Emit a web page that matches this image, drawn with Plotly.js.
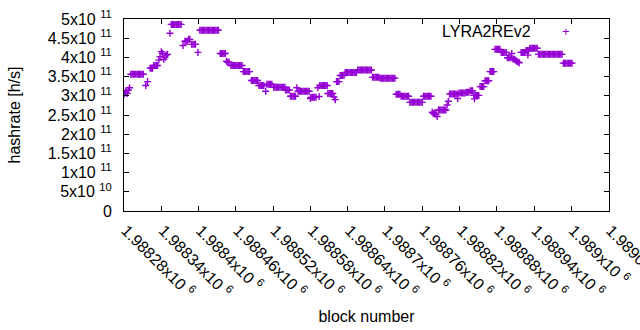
<!DOCTYPE html>
<html>
<head>
<meta charset="utf-8">
<script src="https://cdn.plot.ly/plotly-3.0.1.min.js"></script>
<style>html,body{margin:0;padding:0;background:#fff;}#chart{width:640px;height:330px;}</style>
</head>
<body>
<div id="chart"></div>
<script>
// block numbers (x) and hashrate in h/s (y)
const blocks = [
1988280,1988282,1988283,1988285,1988287,1988289,
1988291,1988293,1988295,1988297,1988299,1988301,1988303,1988305,1988307,1988309,1988311,
1988315,1988318,
1988322,1988324,1988326,1988328,1988330,1988332,1988334,
1988336,1988338,1988340,1988342,1988344,1988346,1988348,1988350,
1988354,
1988356,1988358,1988360,1988362,1988364,1988366,1988368,1988370,1988372,
1988375,
1988378,1988380,1988382,1988384,1988386,
1988389,1988391,1988393,1988395,
1988399,
1988402,1988404,1988406,1988408,1988410,1988412,1988414,1988416,1988418,1988420,1988422,1988424,1988426,1988428,1988430,1988432,
1988435,1988437,1988439,1988441,1988443,
1988445,1988447,1988449,
1988452,1988454,1988456,1988458,1988460,1988462,1988464,1988466,1988468,1988470,
1988472,1988474,1988476,1988478,1988480,1988482,
1988485,1988487,1988489,1988491,1988493,1988495,
1988497,1988499,1988501,1988503,1988505,
1988508,
1988510,1988512,1988514,1988516,1988518,
1988521,1988523,1988525,1988527,1988529,1988531,1988533,1988535,1988537,1988539,
1988540,1988542,1988544,1988546,
1988548,1988550,1988552,1988554,1988556,
1988558,
1988560,1988562,1988564,1988566,1988568,1988570,1988572,1988574,1988576,1988578,
1988580,1988581,1988583,1988585,1988587,1988589,
1988592,1988594,
1988595,1988597,1988599,1988601,1988603,1988605,1988607,
1988608,1988610,1988612,1988614,1988616,
1988618,1988620,
1988622,1988624,1988626,
1988628,1988630,1988632,1988634,
1988636,1988638,1988640,1988642,1988644,1988646,1988648,1988650,1988652,1988654,
1988656,1988658,1988660,1988662,1988664,1988666,1988668,1988670,1988672,1988674,1988676,1988678,
1988680,1988682,1988684,1988686,1988688,1988690,
1988692,1988694,1988696,1988698,1988700,1988702,1988704,1988706,1988708,1988710,1988712,1988714,1988716,
1988718,1988720,1988722,1988724,
1988726,1988728,1988730,1988732,1988734,1988736,1988738,
1988740,1988742,1988744,1988746,1988748,1988750,1988752,1988754,1988756,1988758,1988760,
1988762,1988764,1988766,1988768,1988770,1988772,1988774,
1988776,1988778,1988780,1988782,1988784,
1988786,1988788,1988790,1988792,1988794,1988796,1988798,
1988800,1988802,
1988804,1988806,1988808,1988810,1988812,1988814,1988816,
1988817,
1988819,1988821,1988823,1988825,1988827,1988829,
1988831,1988833,1988835,1988837,1988839,1988841,
1988843,1988844,1988845,1988847,1988849,1988851,
1988853,1988855,1988857,1988859,
1988861,1988863,1988865,1988867,
1988869,1988871,1988873,1988875,
1988877,1988879,1988881,1988883,1988885,
1988887,1988889,1988891,1988893,1988895,
1988897,1988899,1988901,1988903,1988904,
1988906,1988908,1988910,1988912,1988914,1988916,
1988919,1988921,1988923,1988925,1988927,1988929,1988930,1988931,
1988933,1988935,1988937,1988939,1988941,1988943,1988945,
1988947,1988949,1988951,1988953,1988955,1988957,1988959,1988961,1988963,1988965,1988967,1988969,1988971,1988973,1988975,1988977,1988979,1988981,1988983,1988985,
1988987,1988989,1988991,1988993,1988995,1988997,1988999,1989001
];
const hashrate = [
3.04e11,3.08e11,3.13e11,3.06e11,3.15e11,3.21e11,
3.56e11,3.56e11,3.56e11,3.56e11,3.56e11,3.56e11,3.56e11,3.56e11,3.56e11,3.56e11,3.56e11,
3.27e11,3.37e11,
3.72e11,3.72e11,3.72e11,3.79e11,3.79e11,3.79e11,3.79e11,
3.93e11,4.02e11,4.15e11,4.11e11,3.95e11,4.00e11,4.06e11,4.08e11,
4.63e11,
4.86e11,4.86e11,4.86e11,4.86e11,4.86e11,4.86e11,4.86e11,4.86e11,4.86e11,
4.31e11,
4.42e11,4.42e11,4.42e11,4.47e11,4.47e11,
4.34e11,4.34e11,4.34e11,4.34e11,
4.13e11,
4.71e11,4.71e11,4.71e11,4.71e11,4.71e11,4.71e11,4.71e11,4.71e11,4.71e11,4.71e11,4.71e11,4.71e11,4.71e11,4.71e11,4.71e11,4.71e11,
4.10e11,4.10e11,4.10e11,4.10e11,4.10e11,
3.90e11,3.87e11,3.88e11,
3.79e11,3.79e11,3.79e11,3.79e11,3.79e11,3.79e11,3.79e11,3.79e11,3.79e11,3.79e11,
3.63e11,3.63e11,3.63e11,3.63e11,3.63e11,3.63e11,
3.40e11,3.40e11,3.40e11,3.40e11,3.40e11,3.40e11,
3.27e11,3.27e11,3.27e11,3.27e11,3.27e11,
3.12e11,
3.30e11,3.30e11,3.30e11,3.30e11,3.30e11,
3.22e11,3.22e11,3.22e11,3.22e11,3.22e11,3.22e11,3.22e11,3.22e11,3.22e11,3.22e11,
3.15e11,3.15e11,3.15e11,3.15e11,
2.99e11,2.99e11,2.99e11,2.99e11,2.99e11,
3.21e11,
3.12e11,3.12e11,3.12e11,3.12e11,3.12e11,3.12e11,3.12e11,3.12e11,3.12e11,3.12e11,
2.93e11,2.96e11,2.96e11,2.96e11,2.96e11,2.96e11,
3.21e11,2.98e11,
3.27e11,3.27e11,3.27e11,3.27e11,3.27e11,3.27e11,3.27e11,
3.06e11,3.06e11,3.06e11,3.06e11,3.06e11,
2.97e11,2.90e11,
3.37e11,3.37e11,3.37e11,
3.53e11,3.53e11,3.53e11,3.53e11,
3.61e11,3.61e11,3.61e11,3.61e11,3.61e11,3.61e11,3.61e11,3.61e11,3.61e11,3.61e11,
3.67e11,3.67e11,3.67e11,3.67e11,3.67e11,3.67e11,3.67e11,3.67e11,3.67e11,3.67e11,3.67e11,3.67e11,
3.48e11,3.48e11,3.48e11,3.48e11,3.48e11,3.48e11,
3.46e11,3.46e11,3.46e11,3.46e11,3.46e11,3.46e11,3.46e11,3.46e11,3.46e11,3.46e11,3.46e11,3.46e11,3.46e11,
3.04e11,3.04e11,3.04e11,3.04e11,
2.99e11,2.99e11,2.99e11,2.99e11,2.99e11,2.99e11,2.99e11,
2.83e11,2.83e11,2.83e11,2.83e11,2.83e11,2.83e11,2.83e11,2.83e11,2.83e11,2.83e11,2.83e11,
2.99e11,2.99e11,2.99e11,2.99e11,2.99e11,2.99e11,2.99e11,
2.57e11,2.54e11,2.55e11,2.51e11,2.46e11,
2.63e11,2.63e11,2.63e11,2.63e11,2.63e11,2.63e11,2.63e11,
2.76e11,2.86e11,
3.05e11,3.05e11,3.05e11,3.05e11,3.05e11,3.05e11,3.05e11,
2.93e11,
3.07e11,3.07e11,3.07e11,3.07e11,3.07e11,3.07e11,
3.09e11,3.09e11,3.09e11,3.13e11,3.13e11,3.13e11,
3.01e11,2.92e11,3.01e11,3.01e11,3.01e11,3.01e11,
3.24e11,3.24e11,3.24e11,3.24e11,
3.39e11,3.39e11,3.39e11,3.39e11,
3.63e11,3.63e11,3.63e11,3.63e11,
4.21e11,4.21e11,4.21e11,4.21e11,4.21e11,
4.13e11,4.13e11,4.13e11,4.13e11,4.13e11,
3.99e11,3.99e11,3.99e11,3.99e11,4.10e11,
3.96e11,3.95e11,3.93e11,3.90e11,3.88e11,3.86e11,
4.13e11,4.13e11,4.13e11,4.13e11,4.18e11,4.18e11,4.06e11,4.18e11,
4.24e11,4.24e11,4.24e11,4.24e11,4.24e11,4.24e11,4.24e11,
4.08e11,4.08e11,4.08e11,4.08e11,4.08e11,4.08e11,4.08e11,4.08e11,4.08e11,4.08e11,4.08e11,4.08e11,4.08e11,4.08e11,4.08e11,4.08e11,4.08e11,4.08e11,4.08e11,4.08e11,
3.85e11,3.85e11,3.85e11,3.85e11,3.85e11,3.85e11,3.85e11,3.85e11
];
const seriesName = 'LYRA2REv2';

const xTickVals = [1988280,1988340,1988400,1988460,1988520,1988580,1988640,1988700,1988760,1988820,1988880,1988940,1989000,1989060];
const xTickText = ['1.98828x10 <sup>6</sup>','1.98834x10 <sup>6</sup>','1.9884x10 <sup>6</sup>','1.98846x10 <sup>6</sup>','1.98852x10 <sup>6</sup>','1.98858x10 <sup>6</sup>','1.98864x10 <sup>6</sup>','1.9887x10 <sup>6</sup>','1.98876x10 <sup>6</sup>','1.98882x10 <sup>6</sup>','1.98888x10 <sup>6</sup>','1.98894x10 <sup>6</sup>','1.989x10 <sup>6</sup>','1.98906x10 <sup>6</sup>'];
const yTickVals = [0,5e10,1e11,1.5e11,2e11,2.5e11,3e11,3.5e11,4e11,4.5e11,5e11];
const yTickText = ['0','5x10 <sup>10</sup>','1x10 <sup>11</sup>','1.5x10 <sup>11</sup>','2x10 <sup>11</sup>','2.5x10 <sup>11</sup>','3x10 <sup>11</sup>','3.5x10 <sup>11</sup>','4x10 <sup>11</sup>','4.5x10 <sup>11</sup>','5x10 <sup>11</sup>'];

const purple = '#9400d3';
const FONT = 'Liberation Sans, Arial, sans-serif';
const FS = 16;

const trace = {
  type: 'scatter', mode: 'markers', name: seriesName,
  x: blocks, y: hashrate,
  marker: {symbol: 'cross-thin', size: 5, color: purple, line: {width: 1.4, color: purple}},
  hoverinfo: 'x+y'
};

const axisCommon = {
  showline: true, linecolor: '#000', linewidth: 1, mirror: 'ticks',
  ticks: 'inside', ticklen: 5, tickwidth: 1, tickcolor: '#000',
  showgrid: false, zeroline: false, automargin: false,
  ticklabeloverflow: 'allow',
  tickfont: {family: FONT, size: FS, color: '#000'}
};

const layout = {
  width: 640, height: 330,
  margin: {l: 124, r: 31, t: 19, b: 119, pad: 0},
  paper_bgcolor: '#fff', plot_bgcolor: '#fff',
  font: {family: FONT, size: FS, color: '#000'},
  showlegend: false,
  xaxis: Object.assign({}, axisCommon, {
    range: [1988280, 1989060.5],
    tickmode: 'array', tickvals: xTickVals, ticktext: xTickText, tickangle: 45,
    ticklabelstandoff: 3, ticklabelshift: 2,
    title: {text: 'block number', font: {family: FONT, size: FS, color: '#000'}, standoff: 11}
  }),
  yaxis: Object.assign({}, axisCommon, {
    range: [0, 5e11],
    tickmode: 'array', tickvals: yTickVals, ticktext: yTickText,
    ticklabelstandoff: 8,
    title: {text: 'hashrate [h/s]', font: {family: FONT, size: FS, color: '#000'}, standoff: 23}
  }),
  annotations: [
    {xref: 'paper', yref: 'paper', x: 0.8428, y: 0.934, xanchor: 'right', yanchor: 'middle',
     text: seriesName, showarrow: false, font: {family: FONT, size: FS, color: '#000'}},
    {xref: 'paper', yref: 'paper', x: 0.9122, y: 0.934, xanchor: 'center', yanchor: 'middle',
     text: '+', showarrow: false, font: {family: FONT, size: 13, color: purple}}
  ]
};

Plotly.newPlot('chart', [trace], layout, {displayModeBar: false, staticPlot: true});
</script>
</body>
</html>
